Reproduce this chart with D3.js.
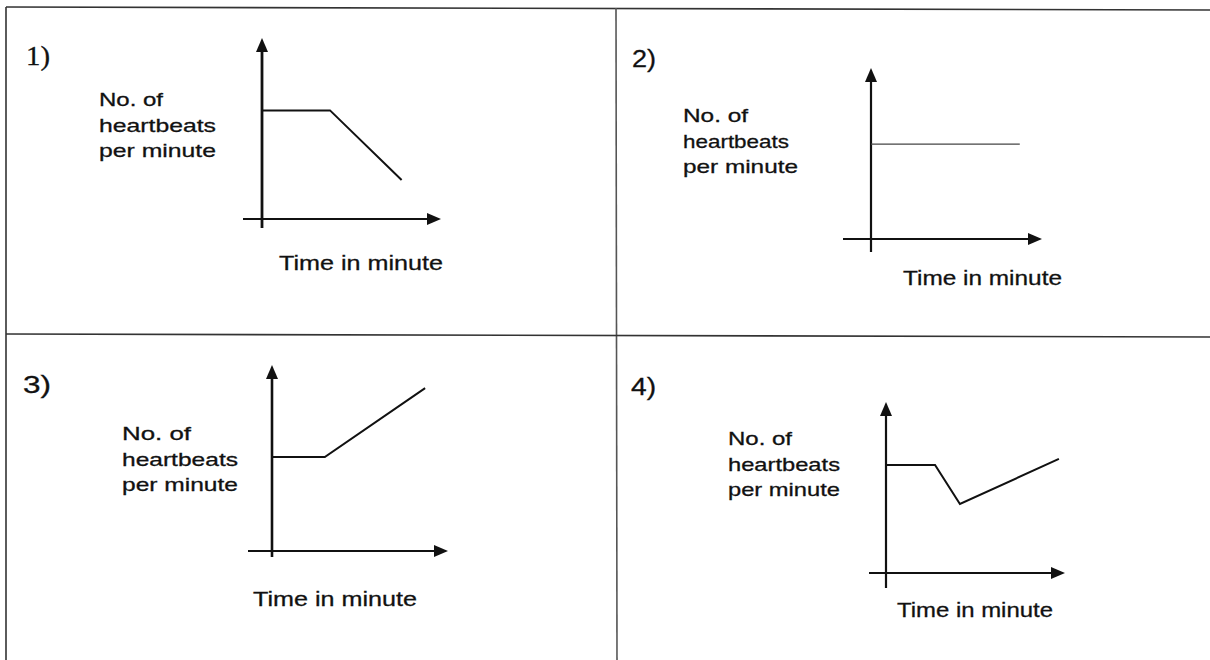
<!DOCTYPE html>
<html>
<head>
<meta charset="utf-8">
<script src="https://cdn.jsdelivr.net/npm/d3@7/dist/d3.min.js"></script>
<style>
  html, body { margin: 0; padding: 0; background: #fff; }
  svg { display: block; }
</style>
</head>
<body>
<svg id="chart" width="1210" height="660"></svg>
<script>
// ---------- DATA (abstract units: axes run 0..10) ----------
const panelIds = ["1)", "2)", "3)", "4)"];
const yLabelLines = ["No. of", "heartbeats", "per minute"];
const xLabel = "Time in minute";

const time1 = [0, 3.8, 7.8];
const beats1 = [6.0, 6.0, 2.15];

const time2 = [0, 8.7];
const beats2 = [5.55, 5.55];

const time3 = [0, 3.0, 8.7];
const beats3 = [5.05, 5.05, 8.76];

const time4 = [0, 2.74, 4.13, 9.66];
const beats4 = [6.32, 6.32, 4.04, 6.67];

const seriesTime = [time1, time2, time3, time4];
const seriesBeats = [beats1, beats2, beats3, beats4];

// ---------- LAYOUT ----------
const layout = [
  { ox: 262, oy: 219, xEnd: 441, yEnd: 38, xStart: 243, yStart: 228, yAxisW: 2.8,
    idX: 26, idY: 65, idW: 24, idFont: "Liberation Serif", idSize: 27,
    labX: 99, labY: 106, labW: [64, 117, 117],
    tX: 279, tY: 270, tW: 164, lineW: 2, lineColor: "#111" },
  { ox: 871, oy: 239, xEnd: 1042, yEnd: 68, xStart: 843, yStart: 252, yAxisW: 2.2,
    idX: 632, idY: 67, idW: 24, idFont: "Liberation Sans", idSize: 23,
    labX: 683, labY: 122, labW: [65, 106, 115],
    tX: 903, tY: 285, tW: 159, lineW: 1.3, lineColor: "#444" },
  { ox: 272, oy: 551, xEnd: 448, yEnd: 365, xStart: 248, yStart: 557, yAxisW: 2.6,
    idX: 23, idY: 393, idW: 28, idFont: "Liberation Sans", idSize: 23,
    labX: 122, labY: 440, labW: [69, 116, 116],
    tX: 253, tY: 606, tW: 164, lineW: 2, lineColor: "#111" },
  { ox: 886, oy: 573, xEnd: 1065, yEnd: 402, xStart: 869, yStart: 588, yAxisW: 2.2,
    idX: 631, idY: 395, idW: 25, idFont: "Liberation Sans", idSize: 23,
    labX: 728, labY: 445, labW: [64, 112, 112],
    tX: 897, tY: 617, tW: 156, lineW: 2, lineColor: "#111" }
];

const svg = d3.select("#chart");

// ---------- GRID BORDERS ----------
const borders = [
  [[6, 7], [1210, 10]],     // top
  [[6, 7], [6, 660]],       // left
  [[616, 8], [617, 660]],   // middle vertical
  [[6, 334], [1210, 337]]   // middle horizontal
];
svg.selectAll("line.border").data(borders).join("line")
  .attr("class", "border")
  .attr("x1", d => d[0][0]).attr("y1", d => d[0][1])
  .attr("x2", d => d[1][0]).attr("y2", d => d[1][1])
  .attr("stroke", (d, i) => i === 2 ? "#555" : "#333")
  .attr("stroke-width", 1.6);

// ---------- PANELS ----------
layout.forEach((L, i) => {
  const g = svg.append("g");
  const x = d3.scaleLinear().domain([0, 10]).range([L.ox, L.xEnd]);
  const y = d3.scaleLinear().domain([0, 10]).range([L.oy, L.yEnd]);

  const head = 14, half = 6;
  g.append("line")
    .attr("x1", L.xStart).attr("y1", y(0))
    .attr("x2", x(10) - head + 2).attr("y2", y(0))
    .attr("stroke", "#111").attr("stroke-width", 1.8);
  g.append("line")
    .attr("x1", x(0)).attr("y1", L.yStart)
    .attr("x2", x(0)).attr("y2", y(10) + head - 2)
    .attr("stroke", "#111").attr("stroke-width", L.yAxisW);

  g.append("path")
    .attr("d", `M${x(10)},${y(0)} L${x(10) - head},${y(0) - half} L${x(10) - head},${y(0) + half} Z`)
    .attr("fill", "#111");
  g.append("path")
    .attr("d", `M${x(0)},${y(10)} L${x(0) - half},${y(10) + head} L${x(0) + half},${y(10) + head} Z`)
    .attr("fill", "#111");

  const pts = seriesTime[i].map((t, k) => [t, seriesBeats[i][k]]);
  g.append("path")
    .datum(pts)
    .attr("d", d3.line().x(d => x(d[0])).y(d => y(d[1])))
    .attr("fill", "none")
    .attr("stroke", L.lineColor)
    .attr("stroke-width", L.lineW)
    .attr("stroke-linejoin", "miter");

  g.append("text")
    .attr("x", L.idX).attr("y", L.idY)
    .attr("font-family", L.idFont)
    .attr("font-size", L.idSize)
    .attr("fill", "#111")
    .attr("stroke", "#111").attr("stroke-width", 0.3)
    .attr("textLength", L.idW)
    .attr("lengthAdjust", "spacingAndGlyphs")
    .text(panelIds[i]);

  yLabelLines.forEach((s, k) => {
    g.append("text")
      .attr("x", L.labX).attr("y", L.labY + k * 25.5)
      .attr("font-family", "Liberation Sans, Arial, sans-serif")
      .attr("font-size", 19)
      .attr("fill", "#111")
      .attr("stroke", "#111").attr("stroke-width", 0.3)
      .attr("textLength", L.labW[k])
      .attr("lengthAdjust", "spacingAndGlyphs")
      .text(s);
  });

  g.append("text")
    .attr("x", L.tX).attr("y", L.tY)
    .attr("font-family", "Liberation Sans, Arial, sans-serif")
    .attr("font-size", 21)
    .attr("fill", "#111")
    .attr("stroke", "#111").attr("stroke-width", 0.3)
    .attr("textLength", L.tW)
    .attr("lengthAdjust", "spacingAndGlyphs")
    .text(xLabel);
});
</script>
</body>
</html>
